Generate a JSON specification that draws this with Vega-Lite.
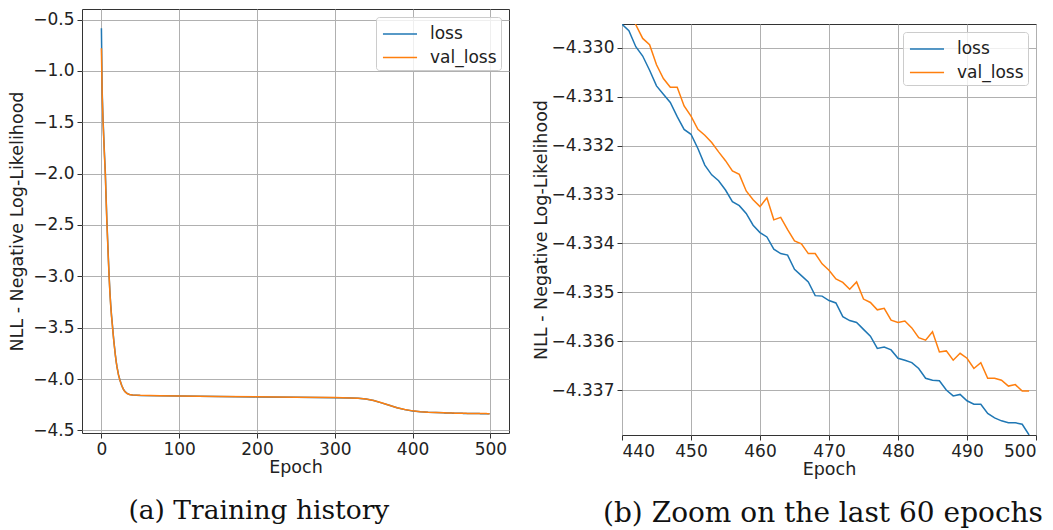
{
  "$schema": "https://vega.github.io/schema/vega-lite/v6.json",
  "background": "white",
  "padding": {"left": 8, "top": 8, "right": 5, "bottom": 0},
  "config": {
    "font": "DejaVu Sans",
    "view": {"stroke": "#333333", "strokeWidth": 1},
    "axis": {
      "labelFont": "DejaVu Sans",
      "labelFontSize": 17,
      "labelColor": "#222222",
      "titleFont": "DejaVu Sans",
      "titleFontSize": 17.5,
      "titleFontWeight": "normal",
      "titleColor": "#222222",
      "tickColor": "#333333",
      "tickSize": 5,
      "tickWidth": 1,
      "gridColor": "#b0b0b0",
      "gridWidth": 1,
      "domain": false,
      "labelPadding": 3
    },
    "legend": {
      "orient": "top-right",
      "offset": 8,
      "fillColor": "rgba(255,255,255,0.8)",
      "strokeColor": "#cccccc",
      "cornerRadius": 3,
      "padding": 4,
      "symbolType": "M-1.42,0H1.42",
      "symbolSize": 576,
      "symbolOffset": 7,
      "symbolStrokeWidth": 1.5,
      "labelFont": "DejaVu Sans",
      "labelFontSize": 17,
      "labelColor": "#222222",
      "labelOffset": 17,
      "rowPadding": 2.5
    },
    "title": {"font": "DejaVu Serif", "fontWeight": "normal", "color": "#111111"}
  },
  "datasets": {
    "hist": [
      {"epoch": 0, "series": "loss", "nll": -0.585},
      {"epoch": 1, "series": "loss", "nll": -1.20},
      {"epoch": 2, "series": "loss", "nll": -1.45},
      {"epoch": 3, "series": "loss", "nll": -1.64},
      {"epoch": 4, "series": "loss", "nll": -1.82},
      {"epoch": 5, "series": "loss", "nll": -1.98},
      {"epoch": 6, "series": "loss", "nll": -2.22},
      {"epoch": 7, "series": "loss", "nll": -2.45},
      {"epoch": 8, "series": "loss", "nll": -2.64},
      {"epoch": 9, "series": "loss", "nll": -2.83},
      {"epoch": 10, "series": "loss", "nll": -3.01},
      {"epoch": 11, "series": "loss", "nll": -3.16},
      {"epoch": 12, "series": "loss", "nll": -3.28},
      {"epoch": 13, "series": "loss", "nll": -3.38},
      {"epoch": 14, "series": "loss", "nll": -3.46},
      {"epoch": 15, "series": "loss", "nll": -3.55},
      {"epoch": 16, "series": "loss", "nll": -3.63},
      {"epoch": 17, "series": "loss", "nll": -3.70},
      {"epoch": 18, "series": "loss", "nll": -3.77},
      {"epoch": 19, "series": "loss", "nll": -3.83},
      {"epoch": 20, "series": "loss", "nll": -3.88},
      {"epoch": 22, "series": "loss", "nll": -3.96},
      {"epoch": 24, "series": "loss", "nll": -4.015},
      {"epoch": 26, "series": "loss", "nll": -4.06},
      {"epoch": 28, "series": "loss", "nll": -4.095},
      {"epoch": 30, "series": "loss", "nll": -4.12},
      {"epoch": 33, "series": "loss", "nll": -4.14},
      {"epoch": 36, "series": "loss", "nll": -4.15},
      {"epoch": 40, "series": "loss", "nll": -4.155},
      {"epoch": 50, "series": "loss", "nll": -4.16},
      {"epoch": 75, "series": "loss", "nll": -4.163},
      {"epoch": 100, "series": "loss", "nll": -4.166},
      {"epoch": 150, "series": "loss", "nll": -4.17},
      {"epoch": 200, "series": "loss", "nll": -4.174},
      {"epoch": 250, "series": "loss", "nll": -4.178},
      {"epoch": 300, "series": "loss", "nll": -4.182},
      {"epoch": 320, "series": "loss", "nll": -4.185},
      {"epoch": 330, "series": "loss", "nll": -4.188},
      {"epoch": 340, "series": "loss", "nll": -4.195},
      {"epoch": 350, "series": "loss", "nll": -4.21},
      {"epoch": 360, "series": "loss", "nll": -4.232},
      {"epoch": 370, "series": "loss", "nll": -4.256},
      {"epoch": 380, "series": "loss", "nll": -4.28},
      {"epoch": 390, "series": "loss", "nll": -4.298},
      {"epoch": 400, "series": "loss", "nll": -4.311},
      {"epoch": 410, "series": "loss", "nll": -4.319},
      {"epoch": 420, "series": "loss", "nll": -4.324},
      {"epoch": 430, "series": "loss", "nll": -4.327},
      {"epoch": 440, "series": "loss", "nll": -4.32952},
      {"epoch": 441, "series": "loss", "nll": -4.32965},
      {"epoch": 442, "series": "loss", "nll": -4.32998},
      {"epoch": 443, "series": "loss", "nll": -4.33017},
      {"epoch": 444, "series": "loss", "nll": -4.33046},
      {"epoch": 445, "series": "loss", "nll": -4.33078},
      {"epoch": 446, "series": "loss", "nll": -4.33095},
      {"epoch": 447, "series": "loss", "nll": -4.33112},
      {"epoch": 448, "series": "loss", "nll": -4.33141},
      {"epoch": 449, "series": "loss", "nll": -4.33167},
      {"epoch": 450, "series": "loss", "nll": -4.33177},
      {"epoch": 451, "series": "loss", "nll": -4.33206},
      {"epoch": 452, "series": "loss", "nll": -4.33240},
      {"epoch": 453, "series": "loss", "nll": -4.33260},
      {"epoch": 454, "series": "loss", "nll": -4.33272},
      {"epoch": 455, "series": "loss", "nll": -4.33291},
      {"epoch": 456, "series": "loss", "nll": -4.33315},
      {"epoch": 457, "series": "loss", "nll": -4.33323},
      {"epoch": 458, "series": "loss", "nll": -4.33339},
      {"epoch": 459, "series": "loss", "nll": -4.33363},
      {"epoch": 460, "series": "loss", "nll": -4.33378},
      {"epoch": 461, "series": "loss", "nll": -4.33387},
      {"epoch": 462, "series": "loss", "nll": -4.33412},
      {"epoch": 463, "series": "loss", "nll": -4.33421},
      {"epoch": 464, "series": "loss", "nll": -4.33424},
      {"epoch": 465, "series": "loss", "nll": -4.33453},
      {"epoch": 466, "series": "loss", "nll": -4.33466},
      {"epoch": 467, "series": "loss", "nll": -4.33479},
      {"epoch": 468, "series": "loss", "nll": -4.33507},
      {"epoch": 469, "series": "loss", "nll": -4.33508},
      {"epoch": 470, "series": "loss", "nll": -4.33517},
      {"epoch": 471, "series": "loss", "nll": -4.33522},
      {"epoch": 472, "series": "loss", "nll": -4.33550},
      {"epoch": 473, "series": "loss", "nll": -4.33558},
      {"epoch": 474, "series": "loss", "nll": -4.33562},
      {"epoch": 475, "series": "loss", "nll": -4.33576},
      {"epoch": 476, "series": "loss", "nll": -4.33590},
      {"epoch": 477, "series": "loss", "nll": -4.33615},
      {"epoch": 478, "series": "loss", "nll": -4.33612},
      {"epoch": 479, "series": "loss", "nll": -4.33618},
      {"epoch": 480, "series": "loss", "nll": -4.33635},
      {"epoch": 481, "series": "loss", "nll": -4.33639},
      {"epoch": 482, "series": "loss", "nll": -4.33644},
      {"epoch": 483, "series": "loss", "nll": -4.33656},
      {"epoch": 484, "series": "loss", "nll": -4.33676},
      {"epoch": 485, "series": "loss", "nll": -4.33680},
      {"epoch": 486, "series": "loss", "nll": -4.33681},
      {"epoch": 487, "series": "loss", "nll": -4.33700},
      {"epoch": 488, "series": "loss", "nll": -4.33712},
      {"epoch": 489, "series": "loss", "nll": -4.33709},
      {"epoch": 490, "series": "loss", "nll": -4.33722},
      {"epoch": 491, "series": "loss", "nll": -4.33729},
      {"epoch": 492, "series": "loss", "nll": -4.33729},
      {"epoch": 493, "series": "loss", "nll": -4.33748},
      {"epoch": 494, "series": "loss", "nll": -4.33757},
      {"epoch": 495, "series": "loss", "nll": -4.33763},
      {"epoch": 496, "series": "loss", "nll": -4.33767},
      {"epoch": 497, "series": "loss", "nll": -4.33767},
      {"epoch": 498, "series": "loss", "nll": -4.33770},
      {"epoch": 499, "series": "loss", "nll": -4.33792},
      {"epoch": 0, "series": "val_loss", "nll": -0.78},
      {"epoch": 1, "series": "val_loss", "nll": -1.24},
      {"epoch": 2, "series": "val_loss", "nll": -1.47},
      {"epoch": 3, "series": "val_loss", "nll": -1.66},
      {"epoch": 4, "series": "val_loss", "nll": -1.84},
      {"epoch": 5, "series": "val_loss", "nll": -2.00},
      {"epoch": 6, "series": "val_loss", "nll": -2.24},
      {"epoch": 7, "series": "val_loss", "nll": -2.47},
      {"epoch": 8, "series": "val_loss", "nll": -2.66},
      {"epoch": 9, "series": "val_loss", "nll": -2.85},
      {"epoch": 10, "series": "val_loss", "nll": -3.02},
      {"epoch": 11, "series": "val_loss", "nll": -3.17},
      {"epoch": 12, "series": "val_loss", "nll": -3.29},
      {"epoch": 13, "series": "val_loss", "nll": -3.39},
      {"epoch": 14, "series": "val_loss", "nll": -3.47},
      {"epoch": 15, "series": "val_loss", "nll": -3.555},
      {"epoch": 16, "series": "val_loss", "nll": -3.635},
      {"epoch": 17, "series": "val_loss", "nll": -3.705},
      {"epoch": 18, "series": "val_loss", "nll": -3.772},
      {"epoch": 19, "series": "val_loss", "nll": -3.832},
      {"epoch": 20, "series": "val_loss", "nll": -3.882},
      {"epoch": 22, "series": "val_loss", "nll": -3.962},
      {"epoch": 24, "series": "val_loss", "nll": -4.016},
      {"epoch": 26, "series": "val_loss", "nll": -4.061},
      {"epoch": 28, "series": "val_loss", "nll": -4.096},
      {"epoch": 30, "series": "val_loss", "nll": -4.121},
      {"epoch": 33, "series": "val_loss", "nll": -4.141},
      {"epoch": 36, "series": "val_loss", "nll": -4.151},
      {"epoch": 40, "series": "val_loss", "nll": -4.156},
      {"epoch": 50, "series": "val_loss", "nll": -4.159},
      {"epoch": 75, "series": "val_loss", "nll": -4.162},
      {"epoch": 100, "series": "val_loss", "nll": -4.165},
      {"epoch": 150, "series": "val_loss", "nll": -4.169},
      {"epoch": 200, "series": "val_loss", "nll": -4.173},
      {"epoch": 250, "series": "val_loss", "nll": -4.177},
      {"epoch": 300, "series": "val_loss", "nll": -4.181},
      {"epoch": 320, "series": "val_loss", "nll": -4.184},
      {"epoch": 330, "series": "val_loss", "nll": -4.187},
      {"epoch": 340, "series": "val_loss", "nll": -4.194},
      {"epoch": 350, "series": "val_loss", "nll": -4.209},
      {"epoch": 360, "series": "val_loss", "nll": -4.231},
      {"epoch": 370, "series": "val_loss", "nll": -4.255},
      {"epoch": 380, "series": "val_loss", "nll": -4.279},
      {"epoch": 390, "series": "val_loss", "nll": -4.297},
      {"epoch": 400, "series": "val_loss", "nll": -4.310},
      {"epoch": 410, "series": "val_loss", "nll": -4.318},
      {"epoch": 420, "series": "val_loss", "nll": -4.3233},
      {"epoch": 430, "series": "val_loss", "nll": -4.3263},
      {"epoch": 440, "series": "val_loss", "nll": -4.3287},
      {"epoch": 441, "series": "val_loss", "nll": -4.3291},
      {"epoch": 442, "series": "val_loss", "nll": -4.32953},
      {"epoch": 443, "series": "val_loss", "nll": -4.32981},
      {"epoch": 444, "series": "val_loss", "nll": -4.32994},
      {"epoch": 445, "series": "val_loss", "nll": -4.33035},
      {"epoch": 446, "series": "val_loss", "nll": -4.33063},
      {"epoch": 447, "series": "val_loss", "nll": -4.33081},
      {"epoch": 448, "series": "val_loss", "nll": -4.33081},
      {"epoch": 449, "series": "val_loss", "nll": -4.33119},
      {"epoch": 450, "series": "val_loss", "nll": -4.33140},
      {"epoch": 451, "series": "val_loss", "nll": -4.33167},
      {"epoch": 452, "series": "val_loss", "nll": -4.33179},
      {"epoch": 453, "series": "val_loss", "nll": -4.33194},
      {"epoch": 454, "series": "val_loss", "nll": -4.33213},
      {"epoch": 455, "series": "val_loss", "nll": -4.33231},
      {"epoch": 456, "series": "val_loss", "nll": -4.33252},
      {"epoch": 457, "series": "val_loss", "nll": -4.33259},
      {"epoch": 458, "series": "val_loss", "nll": -4.33293},
      {"epoch": 459, "series": "val_loss", "nll": -4.33311},
      {"epoch": 460, "series": "val_loss", "nll": -4.33325},
      {"epoch": 461, "series": "val_loss", "nll": -4.33307},
      {"epoch": 462, "series": "val_loss", "nll": -4.33352},
      {"epoch": 463, "series": "val_loss", "nll": -4.33347},
      {"epoch": 464, "series": "val_loss", "nll": -4.33372},
      {"epoch": 465, "series": "val_loss", "nll": -4.33395},
      {"epoch": 466, "series": "val_loss", "nll": -4.33401},
      {"epoch": 467, "series": "val_loss", "nll": -4.33421},
      {"epoch": 468, "series": "val_loss", "nll": -4.33421},
      {"epoch": 469, "series": "val_loss", "nll": -4.33442},
      {"epoch": 470, "series": "val_loss", "nll": -4.33455},
      {"epoch": 471, "series": "val_loss", "nll": -4.33473},
      {"epoch": 472, "series": "val_loss", "nll": -4.33480},
      {"epoch": 473, "series": "val_loss", "nll": -4.33494},
      {"epoch": 474, "series": "val_loss", "nll": -4.33479},
      {"epoch": 475, "series": "val_loss", "nll": -4.33514},
      {"epoch": 476, "series": "val_loss", "nll": -4.33521},
      {"epoch": 477, "series": "val_loss", "nll": -4.33536},
      {"epoch": 478, "series": "val_loss", "nll": -4.33533},
      {"epoch": 479, "series": "val_loss", "nll": -4.33557},
      {"epoch": 480, "series": "val_loss", "nll": -4.33562},
      {"epoch": 481, "series": "val_loss", "nll": -4.33559},
      {"epoch": 482, "series": "val_loss", "nll": -4.33573},
      {"epoch": 483, "series": "val_loss", "nll": -4.33593},
      {"epoch": 484, "series": "val_loss", "nll": -4.33598},
      {"epoch": 485, "series": "val_loss", "nll": -4.33581},
      {"epoch": 486, "series": "val_loss", "nll": -4.33622},
      {"epoch": 487, "series": "val_loss", "nll": -4.33620},
      {"epoch": 488, "series": "val_loss", "nll": -4.33639},
      {"epoch": 489, "series": "val_loss", "nll": -4.33625},
      {"epoch": 490, "series": "val_loss", "nll": -4.33635},
      {"epoch": 491, "series": "val_loss", "nll": -4.33656},
      {"epoch": 492, "series": "val_loss", "nll": -4.33644},
      {"epoch": 493, "series": "val_loss", "nll": -4.33676},
      {"epoch": 494, "series": "val_loss", "nll": -4.33676},
      {"epoch": 495, "series": "val_loss", "nll": -4.33680},
      {"epoch": 496, "series": "val_loss", "nll": -4.33692},
      {"epoch": 497, "series": "val_loss", "nll": -4.33689},
      {"epoch": 498, "series": "val_loss", "nll": -4.33702},
      {"epoch": 499, "series": "val_loss", "nll": -4.33702}
    ]
  },
  "resolve": {"legend": {"color": "independent"}},
  "spacing": 21,
  "hconcat": [
    {
      "width": 427,
      "height": 424,
      "data": {"name": "hist"},
      "title": {"text": "(a) Training history", "orient": "bottom", "anchor": "middle", "frame": "bounds", "offset": 22, "fontSize": 26.5},
      "mark": {"type": "line", "strokeWidth": 1.5},
      "encoding": {
        "x": {
          "field": "epoch", "type": "quantitative",
          "scale": {"domain": [-24.95, 523.95], "nice": false, "zero": false},
          "axis": {"title": "Epoch", "values": [0, 100, 200, 300, 400, 500], "format": "d", "titlePadding": 1}
        },
        "y": {
          "field": "nll", "type": "quantitative",
          "scale": {"domain": [-4.5255, -0.3974], "nice": false, "zero": false},
          "axis": {"title": "NLL - Negative Log-Likelihood", "values": [-4.5, -4.0, -3.5, -3.0, -2.5, -2.0, -1.5, -1.0, -0.5], "format": ".1f", "titlePadding": 6}
        },
        "color": {
          "field": "series", "type": "nominal",
          "scale": {"domain": ["loss", "val_loss"], "range": ["#1f77b4", "#ff7f0e"]},
          "legend": {"title": null}
        }
      }
    },
    {
      "spacing": 0,
      "resolve": {"legend": {"color": "independent"}},
      "vconcat": [
        {
          "width": 414,
          "height": 14,
          "view": {"stroke": null},
          "data": {"values": [{}]},
          "mark": {"type": "point", "opacity": 0}
        },
        {
          "width": 414,
          "height": 411,
          "data": {"name": "hist"},
          "transform": [{"filter": "datum.epoch >= 440"}],
          "title": {"text": "(b) Zoom on the last 60 epochs", "orient": "bottom", "anchor": "middle", "frame": "group", "offset": 22, "dx": -6, "fontSize": 28},
          "mark": {"type": "line", "strokeWidth": 1.5, "clip": true},
          "encoding": {
            "x": {
              "field": "epoch", "type": "quantitative",
              "scale": {"domain": [440, 500], "nice": false, "zero": false},
              "axis": {"title": "Epoch", "values": [440, 450, 460, 470, 480, 490, 500], "format": "d", "titlePadding": 1}
            },
            "y": {
              "field": "nll", "type": "quantitative",
              "scale": {"domain": [-4.33792, -4.329515], "nice": false, "zero": false},
              "axis": {"title": "NLL - Negative Log-Likelihood", "values": [-4.337, -4.336, -4.335, -4.334, -4.333, -4.332, -4.331, -4.33], "format": ".3f", "titlePadding": 1}
            },
            "color": {
              "field": "series", "type": "nominal",
              "scale": {"domain": ["loss", "val_loss"], "range": ["#1f77b4", "#ff7f0e"]},
              "legend": {"title": null}
            }
          }
        }
      ]
    }
  ]
}
